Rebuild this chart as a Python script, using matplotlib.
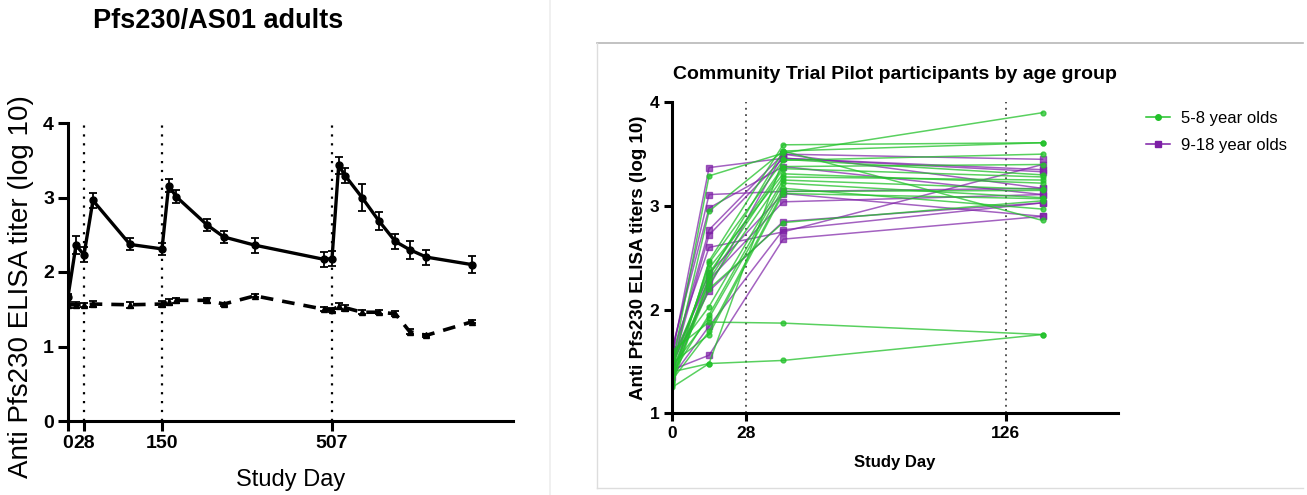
import numpy as np
import matplotlib
matplotlib.use("Agg")
import matplotlib.pyplot as plt
from matplotlib.lines import Line2D

plt.rcParams['font.family'] = ['Liberation Sans', 'DejaVu Sans']

# ---- Pfs230/AS01 adults (group means +/- error) ----
days_adult = [0, 14, 28, 42, 100, 150, 164, 180, 245, 280, 345, 490, 507,
              521, 535, 570, 605, 640, 670, 705, 800]
vacc_mean = [1.67, 2.36, 2.23, 2.96, 2.37, 2.31, 3.16, 3.01, 2.63, 2.47, 2.36,
             2.17, 2.18, 3.43, 3.29, 3.00, 2.69, 2.41, 2.30, 2.20, 2.10]
vacc_err = [0.03, 0.12, 0.10, 0.10, 0.08, 0.08, 0.09, 0.09, 0.08, 0.08, 0.10,
            0.10, 0.10, 0.12, 0.10, 0.18, 0.12, 0.10, 0.12, 0.10, 0.12]
ctrl_mean = [1.56, 1.56, 1.56, 1.57, 1.56, 1.57, 1.60, 1.62, 1.62, 1.57, 1.68,
             1.50, 1.49, 1.54, 1.52, 1.46, 1.46, 1.44, 1.20, 1.15, 1.33]
ctrl_err = [0.04, 0.04, 0.03, 0.04, 0.04, 0.04, 0.04, 0.03, 0.03, 0.02, 0.02,
            0.03, 0.03, 0.04, 0.04, 0.03, 0.03, 0.03, 0.03, 0.02, 0.02]
adult_vacc_days = [28, 150, 507]

# piecewise axis spacing used for the adult timeline
axis_knots = [0, 28, 150, 507, 887]
axis_pos = [0, 16, 94, 264, 445]

# ---- Community trial pilot, individual participants ----
pilot_days = [0, 14, 42, 140]
pilot_vacc_days = [28, 126]
young = [  # 5-8 year olds
    [1.45, 3.29, 3.51, 3.90],
    [1.40, 2.95, 3.53, 3.61],
    [1.30, 2.47, 3.59, 3.61],
    [1.35, 2.45, 3.44, 3.50],
    [1.50, 2.35, 3.38, 3.40],
    [1.27, 2.29, 3.36, 3.28],
    [1.42, 2.25, 3.28, 3.25],
    [1.55, 2.03, 3.25, 3.16],
    [1.38, 1.95, 3.22, 3.08],
    [1.45, 1.92, 3.17, 2.97],
    [1.32, 1.79, 3.14, 3.15],
    [1.48, 1.76, 3.12, 3.07],
    [1.36, 2.20, 2.84, 3.05],
    [1.60, 1.88, 1.87, 1.76],
    [1.40, 1.48, 1.51, 1.76],
    [1.30, 2.32, 3.53, 2.86],
    [1.44, 2.40, 3.31, 3.22],
    [1.25, 1.48, 3.45, 3.30],
]
older = [  # 9-18 year olds
    [1.55, 3.37, 3.46, 3.35],
    [1.60, 3.11, 3.14, 3.17],
    [1.50, 2.77, 3.50, 3.45],
    [1.45, 2.72, 3.46, 3.33],
    [1.52, 2.29, 3.04, 3.11],
    [1.40, 2.22, 3.50, 3.17],
    [1.48, 2.18, 2.85, 3.03],
    [1.35, 1.84, 2.77, 3.03],
    [1.42, 1.56, 2.68, 2.90],
    [1.58, 2.60, 2.75, 3.40],
    [1.62, 2.98, 3.38, 3.11],
    [1.46, 2.35, 3.12, 2.90],
]
green = '#22c12a'
purple = '#7d1fa6'

fig = plt.figure(figsize=(13.07, 4.95), dpi=100)

# panel separator and frame around the pilot chart
fig.add_artist(Line2D([550 / 1307, 550 / 1307], [0, 1], color='#eeeeee', lw=1.2))
fig.add_artist(Line2D([597 / 1307, 1303 / 1307], [1 - 43 / 495, 1 - 43 / 495], color='#b8b8b8', lw=1.2))
fig.add_artist(Line2D([597 / 1307, 597 / 1307], [1 - 43 / 495, 1 - 488 / 495], color='#dddddd', lw=1.0))
fig.add_artist(Line2D([597 / 1307, 1303 / 1307], [1 - 488 / 495, 1 - 488 / 495], color='#dddddd', lw=1.0))

# ---------------- left panel ----------------
ax1 = fig.add_axes([68 / 1307, 74 / 495, 445 / 1307, 298 / 495])
ax1.set_xscale('function', functions=(lambda x: np.interp(x, axis_knots, axis_pos),
                                      lambda p: np.interp(p, axis_pos, axis_knots)))
ax1.set_xlim(0, 887)
ax1.set_ylim(0, 4)
for d in adult_vacc_days:
    ax1.plot([d, d], [0, 4], color='black', ls=(0, (1, 3)), lw=1.6, zorder=1)
ax1.errorbar(days_adult, vacc_mean, yerr=vacc_err, color='black', lw=2.4,
             marker='o', ms=5, capsize=3, elinewidth=1.3, capthick=1.3, zorder=3)
ax1.errorbar(days_adult, ctrl_mean, yerr=ctrl_err, color='black', lw=2.6,
             ls=(0, (3.5, 2.5)), marker='^', ms=4.5, capsize=3, elinewidth=1.3,
             capthick=1.3, zorder=3)
ax1.spines[['top', 'right']].set_visible(False)
ax1.spines[['left', 'bottom']].set_linewidth(2.2)
ax1.set_yticks([0, 1, 2, 3, 4])
ax1.set_xticks([0] + adult_vacc_days)
ax1.set_xticklabels(['0', '28', '150', '507'])
ax1.tick_params(axis='both', width=2.2, length=7, labelsize=14, pad=3)
for lab in ax1.get_xticklabels() + ax1.get_yticklabels():
    lab.set_fontweight('bold')
ax1.set_xlabel('Study Day', fontsize=17, labelpad=12)
ax1.set_ylabel('Anti Pfs230 ELISA titer (log 10)', fontsize=20)
ax1.yaxis.set_label_coords(-0.077, 0.45)
fig.text(218 / 1307, 1 - 21 / 495, 'Pfs230/AS01 adults', fontsize=19.5,
         fontweight='bold', ha='center', va='center')

# ---------------- right panel ----------------
ax2 = fig.add_axes([672 / 1307, 81.7 / 495, 446 / 1307, 311 / 495])
ax2.set_xlim(0, 168.5)
ax2.set_ylim(1, 4)
for d in pilot_vacc_days:
    ax2.plot([d, d], [1, 4], color='#444444', ls=(0, (1, 2.5)), lw=1.3, zorder=1)
for vals in older:
    ax2.plot(pilot_days, vals, color=purple, alpha=0.7, lw=1.1, marker='s', ms=4, zorder=2)
for vals in young:
    ax2.plot(pilot_days, vals, color=green, alpha=0.75, lw=1.1, marker='o', ms=3.5, zorder=2)
ax2.spines[['top', 'right']].set_visible(False)
ax2.spines[['left', 'bottom']].set_linewidth(2.2)
ax2.set_yticks([1, 2, 3, 4])
ax2.set_xticks([0] + pilot_vacc_days)
ax2.tick_params(axis='both', width=2.2, length=6, labelsize=12.5, pad=3)
for lab in ax2.get_xticklabels() + ax2.get_yticklabels():
    lab.set_fontweight('bold')
ax2.set_xlabel('Study Day', fontsize=12, fontweight='bold', labelpad=10)
ax2.set_ylabel('Anti Pfs230 ELISA titers (log 10)', fontsize=13.5, fontweight='semibold')
ax2.yaxis.set_label_coords(-0.056, 0.5)
ax2.set_title('Community Trial Pilot participants by age group', fontsize=14,
              fontweight='bold', pad=17)

handles = [Line2D([], [], color=green, lw=1.1, marker='o', ms=4),
           Line2D([], [], color=purple, lw=1.1, marker='s', ms=4)]
ax2.legend(handles, ['5-8 year olds', '9-18 year olds'], loc='upper left',
           bbox_to_anchor=(1.03, 1.02), frameon=False, fontsize=12,
           handlelength=1.4, handletextpad=0.7, labelspacing=0.7)

fig.savefig('out.png', dpi=100)
